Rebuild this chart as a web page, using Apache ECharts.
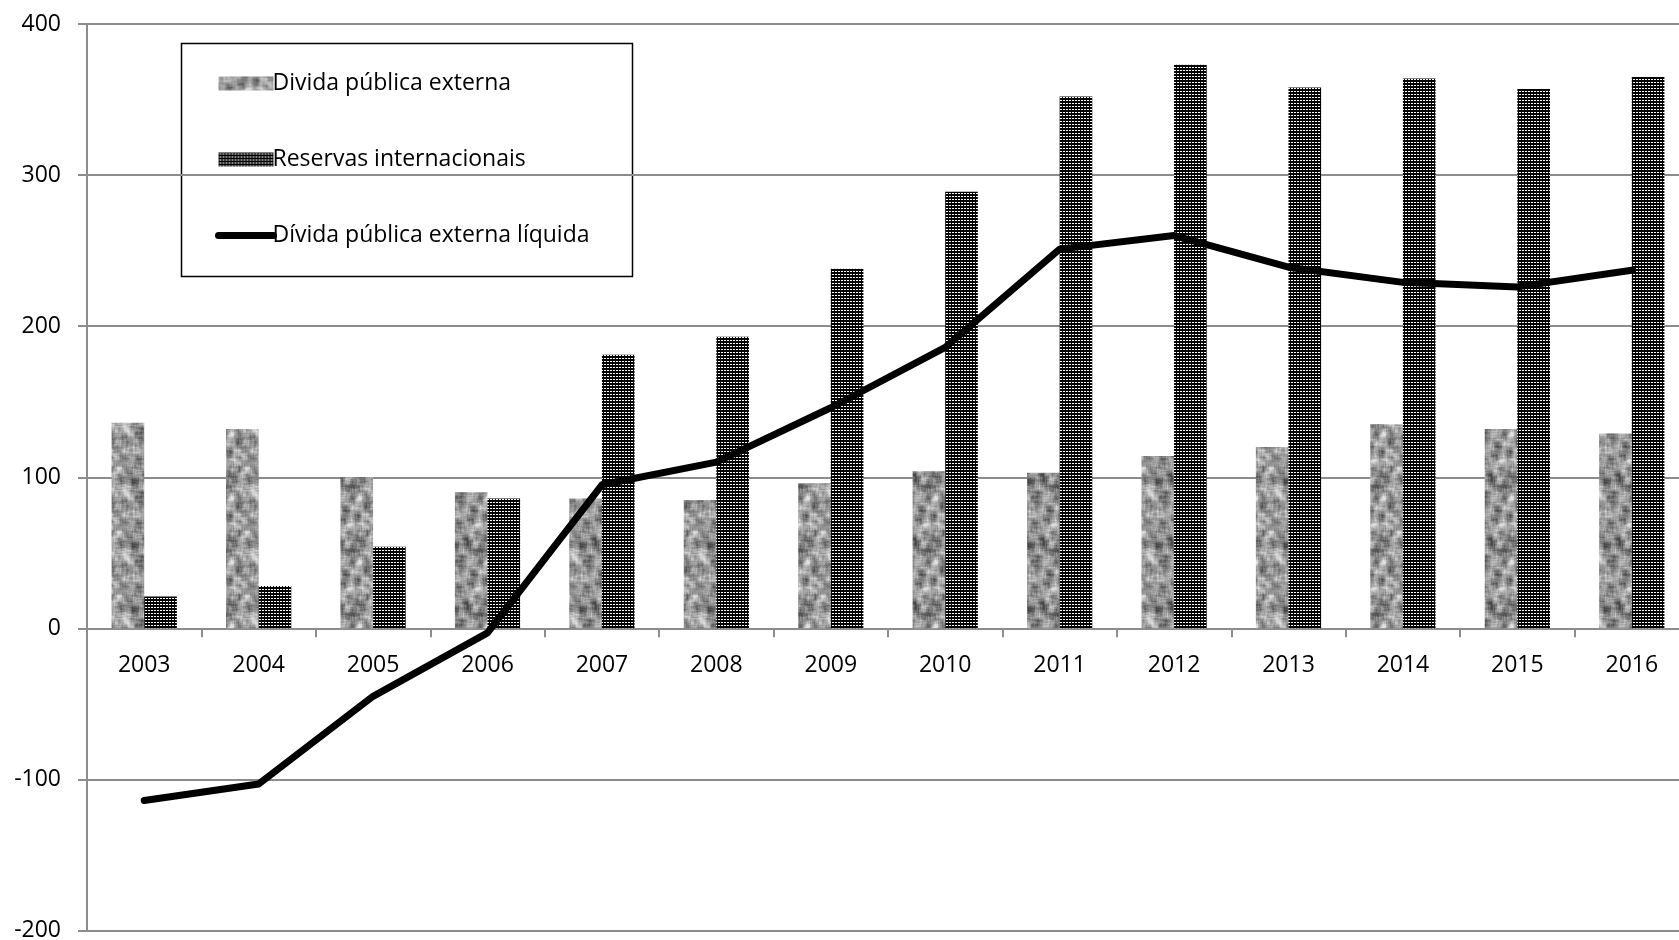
<!DOCTYPE html>
<html><head><meta charset="utf-8">
<script src="https://cdn.jsdelivr.net/npm/echarts@6/dist/echarts.min.js"></script>
<style>html,body{margin:0;padding:0;background:#fff}#c{width:1679px;height:940px}</style>
</head><body><div id="c"></div>
<script>
const categories = ['2003','2004','2005','2006','2007','2008','2009','2010','2011','2012','2013','2014','2015','2016'];
const dividaExterna = [136,132,100,90,86,85,96,104,103,114,120,135,132,129];
const reservas = [21,28,54,86,181,193,238,289,352,373,358,364,357,365];
const dividaLiquida = [-114,-103,-45,-3,95,110,146,186,251,260,239,229,226,237];
const yTicks = [-200,-100,0,100,200,300,400];
const names = ['Divida pública externa','Reservas internacionais','Dívida pública externa líquida'];

// texture for external debt bars (deterministic hash noise, smoothed)
function mottled(){
  const N=64, c=document.createElement('canvas'); c.width=N; c.height=N;
  const ctx=c.getContext('2d'); const img=ctx.createImageData(N,N);
  const h=(x,y)=>{const s=Math.sin(((x%N+N)%N)*127.1+((y%N+N)%N)*311.7)*43758.5453;return s-Math.floor(s);};
  const raw=[];for(let y=0;y<N;y++){raw[y]=[];for(let x=0;x<N;x++)raw[y][x]=h(x,y);}
  for(let y=0;y<N;y++)for(let x=0;x<N;x++){
    let s=0,n=0;for(let dy=-3;dy<=3;dy++)for(let dx=-3;dx<=3;dx++){s+=raw[(y+dy+N)%N][(x+dx+N)%N];n++;}
    let v=s/n; v=(v-0.5)*7; const g=Math.max(55,Math.min(225,150+v*95));
    const i=(y*N+x)*4; img.data[i]=g;img.data[i+1]=g;img.data[i+2]=g;img.data[i+3]=255;
  }
  ctx.putImageData(img,0,0); return c;
}
function dots(){
  const c=document.createElement('canvas'); c.width=3; c.height=3;
  const ctx=c.getContext('2d'); ctx.fillStyle='#000'; ctx.fillRect(0,0,3,3);
  ctx.fillStyle='#fff'; ctx.fillRect(1,1,2,1); return c;
}
const pat1={image:mottled(),repeat:'repeat'};
const pat2={image:dots(),repeat:'repeat'};

const chart=echarts.init(document.getElementById('c'),null,{renderer:'canvas'});
const font='"Open Sans", "Noto Sans", sans-serif';
chart.setOption({
  backgroundColor:'#fff',
  animation:false,
  grid:{left:87,right:-10,top:24,bottom:9.5,containLabel:false,outerBoundsMode:'none'},
  legend:{
    orient:'vertical',left:210,top:67,itemGap:53,itemWidth:55,itemHeight:14,
    textStyle:{fontFamily:font,fontSize:23,color:'#000',padding:[0,0,0,-6]},
    data:[{name:names[0],icon:'rect'},{name:names[1],icon:'rect'},
      {name:names[2],lineStyle:{width:7,cap:'round',color:'#000'},itemStyle:{opacity:0}}]
  },
  graphic:[{type:'rect',left:179,top:41,shape:{width:451,height:233},style:{fill:'none',stroke:'#000',lineWidth:1.5},z:-1}],
  xAxis:{type:'category',data:categories,
    axisLine:{onZero:true,lineStyle:{color:'#8c8c8c',width:2}},
    axisTick:{show:true,length:9,lineStyle:{color:'#8c8c8c',width:2}},
    axisLabel:{fontFamily:font,fontSize:23,color:'#000',margin:-277},
    splitLine:{show:false}},
  yAxis:{type:'value',min:-200,max:400,interval:100,
    axisLine:{show:true,lineStyle:{color:'#8c8c8c',width:2}},
    axisTick:{show:true,length:9,lineStyle:{color:'#8c8c8c',width:2}},
    axisLabel:{fontFamily:font,fontSize:23,color:'#000',margin:26,
      formatter:v=>yTicks.includes(v)?String(v):''},
    splitLine:{lineStyle:{color:'#8c8c8c',width:2}}},
  series:[
    {name:names[0],type:'bar',data:dividaExterna,barGap:'0%',barCategoryGap:'43%',
      itemStyle:{color:pat1}},
    {name:names[1],type:'bar',data:reservas,barGap:'0%',barCategoryGap:'43%',
      itemStyle:{color:pat2}},
    {name:names[2],type:'line',data:dividaLiquida,symbol:'none',showSymbol:false,
      lineStyle:{color:'#000',width:7,cap:'round',join:'round'},itemStyle:{color:'#000'},z:5}
  ]
});
</script></body></html>
